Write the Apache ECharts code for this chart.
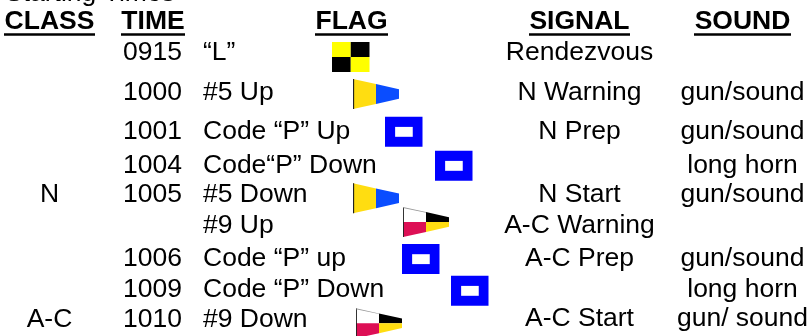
<!DOCTYPE html>
<html>
<head>
<meta charset="utf-8">
<style>html,body{margin:0;padding:0;background:#fff}#c{width:811px;height:336px}</style>
<script src="https://cdn.jsdelivr.net/npm/echarts@6/dist/echarts.min.js"></script>
</head>
<body>
<div id="c"></div>
<script>
var title = ['Starting Times'];
var headers = ['CLASS', 'TIME', 'FLAG', 'SIGNAL', 'SOUND'];
var classes = ['', '', '', '', 'N', '', '', '', 'A-C'];
var times = ['0915', '1000', '1001', '1004', '1005', '', '1006', '1009', '1010'];
var actions = ['\u201CL\u201D', '#5 Up', 'Code \u201CP\u201D Up', 'Code\u201CP\u201D Down', '#5 Down', '#9 Up', 'Code \u201CP\u201D up', 'Code \u201CP\u201D Down', '#9 Down'];
var signals = ['Rendezvous', 'N Warning', 'N Prep', '', 'N Start', 'A-C Warning', 'A-C Prep', '', 'A-C Start'];
var sounds = ['', 'gun/sound', 'gun/sound', 'long horn', 'gun/sound', '', 'gun/sound', 'long horn', 'gun/ sound'];
var flagKinds = ['L', 'five', 'P', 'P', 'five', 'nine', 'P', 'P', 'nine'];

// layout, in axis units (one unit = one pixel of the reference)
var rowBaselines = [60, 99.5, 138.5, 172.5, 202, 233, 266, 297, 327];
var signalBaselines = [60, 99.5, 138.5, 172.5, 202, 233, 266, 297, 325.5];
var headerX = [49.5, 153, 351.5, 579.5, 742.5];
var headerHalf = [45.5, 32, 36.5, 50.5, 48.5];
var flagX = [332, 353, 385, 435, 353, 403, 402, 451, 356];
var flagY = [42, 79, 116.7, 150.7, 183.3, 207, 244, 275.7, 308.3];

var FONT = '"Liberation Sans", Arial, sans-serif';
var SIZE = 26.5;
var ASCENT = 20.5;

function textSeries(x, align, ys, labels, weight) {
  return {
    type: 'custom', coordinateSystem: 'cartesian2d', silent: true, clip: false,
    data: labels.map(function (t, i) { return [Array.isArray(x) ? x[i] : x, ys[i]]; }),
    renderItem: function (params, api) {
      var p = api.coord([api.value(0), api.value(1) - ASCENT]);
      return {
        type: 'text',
        style: {
          x: p[0], y: p[1], text: labels[params.dataIndex], fill: '#000',
          font: (weight || 'normal') + ' ' + SIZE + 'px ' + FONT,
          textAlign: align, textBaseline: 'top'
        }
      };
    }
  };
}

var FLAGS = {
  L: { w: 37.5, h: 30, parts: [
    ['#ffff00', [[0, 0], [.5, 0], [.5, .5], [0, .5]]],
    ['#000000', [[.5, 0], [1, 0], [1, .5], [.5, .5]]],
    ['#000000', [[0, .5], [.5, .5], [.5, 1], [0, 1]]],
    ['#ffff00', [[.5, .5], [1, .5], [1, 1], [.5, 1]]]
  ] },
  five: { w: 46, h: 30, parts: [
    ['#ffdd11', [[0, 0], [.5, .17], [.5, .83], [0, 1]]],
    ['#0a4dff', [[.5, .17], [1, .34], [1, .66], [.5, .83]]],
    ['#222222', [[0, 0], [.025, 0], [.025, 1], [0, 1]]]
  ] },
  nine: { w: 46, h: 30, parts: [
    ['#ffffff', [[0, 0], [.5, .17], [.5, .5], [0, .5]]],
    ['#000000', [[.5, .17], [1, .34], [1, .5], [.5, .5]]],
    ['#dd0f55', [[0, .5], [.5, .5], [.5, .83], [0, 1]]],
    ['#ffdd11', [[.5, .5], [1, .5], [1, .66], [.5, .83]]],
    ['#222222', [[0, 0], [.02, 0], [.02, 1], [0, 1]]],
    ['#999999', [[0, 0], [.5, .17], [.5, .19], [0, .03]]]
  ] },
  P: { w: 37.5, h: 30, parts: [
    ['#0000ff', [[0, 0], [1, 0], [1, 1], [0, 1]]],
    ['#ffffff', [[.27, .34], [.74, .34], [.74, .67], [.27, .67]]]
  ] }
};

var flagSeries = {
  type: 'custom', coordinateSystem: 'cartesian2d', silent: true, clip: false,
  data: flagX.map(function (x, i) { return [x, flagY[i]]; }),
  renderItem: function (params, api) {
    var x = api.value(0), y = api.value(1), f = FLAGS[flagKinds[params.dataIndex]];
    return {
      type: 'group',
      children: f.parts.map(function (part) {
        return {
          type: 'polygon',
          shape: { points: part[1].map(function (q) { return api.coord([x + q[0] * f.w, y + q[1] * f.h]); }) },
          style: { fill: part[0], stroke: null }
        };
      })
    };
  }
};

var underlineSeries = {
  type: 'custom', coordinateSystem: 'cartesian2d', silent: true, clip: false,
  data: headerX.map(function (x, i) { return [x, headerHalf[i]]; }),
  renderItem: function (params, api) {
    var a = api.coord([api.value(0) - api.value(1), 33.3]);
    var b = api.coord([api.value(0) + api.value(1), 35.8]);
    return { type: 'rect', shape: { x: a[0], y: a[1], width: b[0] - a[0], height: b[1] - a[1] }, style: { fill: '#000' } };
  }
};

var chart = echarts.init(document.getElementById('c'), null, { renderer: 'canvas' });
chart.setOption({
  animation: false,
  backgroundColor: '#fff',
  grid: { left: 0, right: 0, top: 0, bottom: 0 },
  xAxis: { type: 'value', min: 0, max: 811, show: false },
  yAxis: { type: 'value', min: 0, max: 336, inverse: true, show: false },
  series: [
    textSeries(5, 'left', [0.5], title),
    textSeries(headerX, 'center', headerX.map(function () { return 29; }), headers, 'bold'),
    underlineSeries,
    textSeries(49.5, 'center', rowBaselines, classes),
    textSeries(123, 'left', rowBaselines, times),
    textSeries(203, 'left', rowBaselines, actions),
    flagSeries,
    textSeries(579.5, 'center', signalBaselines, signals),
    textSeries(742.5, 'center', signalBaselines, sounds)
  ]
});
</script>
</body>
</html>
